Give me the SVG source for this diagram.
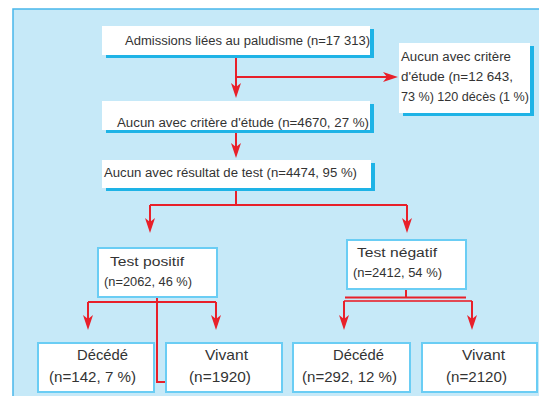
<svg xmlns="http://www.w3.org/2000/svg" width="539" height="396" viewBox="0 0 539 396">
  <style>
    .txt { font-family: "Liberation Sans", Arial, sans-serif; fill: #333333; }
    .s { font-size: 12.5px; }
    .l { font-size: 15px; }
    .card { fill: #ffffff; }
    .shadow { fill: #1eb3e6; }
    .frame { fill: #ffffff; stroke: #6acdf4; stroke-width: 2; }
    .link { fill: none; stroke: #e8202a; stroke-width: 2; }
  </style>
  <defs>
    <marker id="arrow" markerUnits="userSpaceOnUse" markerWidth="16" markerHeight="11" refX="12" refY="5.5" orient="auto">
      <path d="M15,5.5 L0,0.5 L4,5.5 L0,10.5 Z" fill="#e8202a"/>
    </marker>
  </defs>

  <!-- background panel -->
  <rect x="13" y="9" width="540" height="400" fill="#c6e9f8" stroke="#48b6ea" stroke-width="1.5"/>

  <!-- connectors -->
  <g id="connectors">
    <path class="link" d="M236,55 V95" marker-end="url(#arrow)"/>
    <path class="link" d="M236,77 H395" marker-end="url(#arrow)"/>
    <path class="link" d="M236,130 V155" marker-end="url(#arrow)"/>
    <path class="link" d="M236,191 V205"/>
    <path class="link" d="M150,205 H407"/>
    <path class="link" d="M150,205 V230" marker-end="url(#arrow)"/>
    <path class="link" d="M407,205 V230" marker-end="url(#arrow)"/>
    <!-- positive branch -->
    <path class="link" d="M88,302 H216"/>
    <path class="link" d="M88,302 V327" marker-end="url(#arrow)"/>
    <path class="link" d="M216,302 V327" marker-end="url(#arrow)"/>
    <path class="link" d="M157,297 V382 H166"/>
    <!-- negative branch -->
    <path class="link" d="M406,289 V297"/>
    <path class="link" d="M345,297.5 H466"/>
    <path class="link" d="M344,301 H472" stroke-opacity="0.8"/>
    <path class="link" d="M344,301 V327" marker-end="url(#arrow)"/>
    <path class="link" d="M472,301 V327" marker-end="url(#arrow)"/>
  </g>

  <g id="admissions">
    <rect class="shadow" x="106" y="29" width="268" height="29"/>
    <rect class="card" x="102" y="26" width="268" height="29"/>
    <text class="txt s" x="125" y="45" textLength="245" lengthAdjust="spacingAndGlyphs">Admissions liées au paludisme (n=17 313)</text>
  </g>

  <g id="exclus">
    <rect class="shadow" x="403" y="46" width="131" height="70"/>
    <rect class="card" x="399" y="43" width="131" height="70"/>
    <text class="txt s" x="401" y="61" textLength="110" lengthAdjust="spacingAndGlyphs">Aucun avec critère</text>
    <text class="txt s" x="401" y="81" textLength="112" lengthAdjust="spacingAndGlyphs">d'étude (n=12 643,</text>
    <text class="txt s" x="401" y="101" textLength="128" lengthAdjust="spacingAndGlyphs">73 %) 120 décès (1 %)</text>
  </g>

  <g id="criteres">
    <rect class="shadow" x="106" y="104" width="268" height="29"/>
    <rect class="card" x="102" y="101" width="268" height="29"/>
    <text class="txt s" x="117" y="127" textLength="252" lengthAdjust="spacingAndGlyphs">Aucun avec critère d'étude (n=4670, 27 %)</text>
  </g>

  <g id="resultat">
    <rect class="shadow" x="106" y="163" width="269" height="28"/>
    <rect class="card" x="102" y="160" width="269" height="28"/>
    <text class="txt s" x="104" y="177" textLength="253" lengthAdjust="spacingAndGlyphs">Aucun avec résultat de test (n=4474, 95 %)</text>
  </g>

  <g id="positif">
    <rect class="frame" x="98" y="248" width="119" height="49"/>
    <text class="txt s" x="110" y="266" textLength="74" lengthAdjust="spacingAndGlyphs">Test positif</text>
    <text class="txt s" x="104" y="286" textLength="88" lengthAdjust="spacingAndGlyphs">(n=2062, 46 %)</text>
  </g>

  <g id="negatif">
    <rect class="frame" x="347" y="240" width="119" height="49"/>
    <text class="txt s" x="357" y="257" textLength="80" lengthAdjust="spacingAndGlyphs">Test négatif</text>
    <text class="txt s" x="353" y="277" textLength="89" lengthAdjust="spacingAndGlyphs">(n=2412, 54 %)</text>
  </g>

  <g id="pos-decede">
    <rect class="frame" x="38" y="343" width="116" height="49"/>
    <text class="txt l" x="77" y="360" textLength="51" lengthAdjust="spacingAndGlyphs">Décédé</text>
    <text class="txt l" x="49" y="382" textLength="87" lengthAdjust="spacingAndGlyphs">(n=142, 7 %)</text>
  </g>

  <g id="pos-vivant">
    <rect class="frame" x="166" y="343" width="116" height="49"/>
    <text class="txt l" x="205" y="360" textLength="43" lengthAdjust="spacingAndGlyphs">Vivant</text>
    <text class="txt l" x="189" y="382" textLength="62" lengthAdjust="spacingAndGlyphs">(n=1920)</text>
  </g>

  <g id="neg-decede">
    <rect class="frame" x="293" y="343" width="117" height="49"/>
    <text class="txt l" x="333" y="360" textLength="51" lengthAdjust="spacingAndGlyphs">Décédé</text>
    <text class="txt l" x="302" y="382" textLength="95" lengthAdjust="spacingAndGlyphs">(n=292, 12 %)</text>
  </g>

  <g id="neg-vivant">
    <rect class="frame" x="422" y="343" width="115" height="49"/>
    <text class="txt l" x="462" y="360" textLength="43" lengthAdjust="spacingAndGlyphs">Vivant</text>
    <text class="txt l" x="446" y="382" textLength="61" lengthAdjust="spacingAndGlyphs">(n=2120)</text>
  </g>
</svg>
